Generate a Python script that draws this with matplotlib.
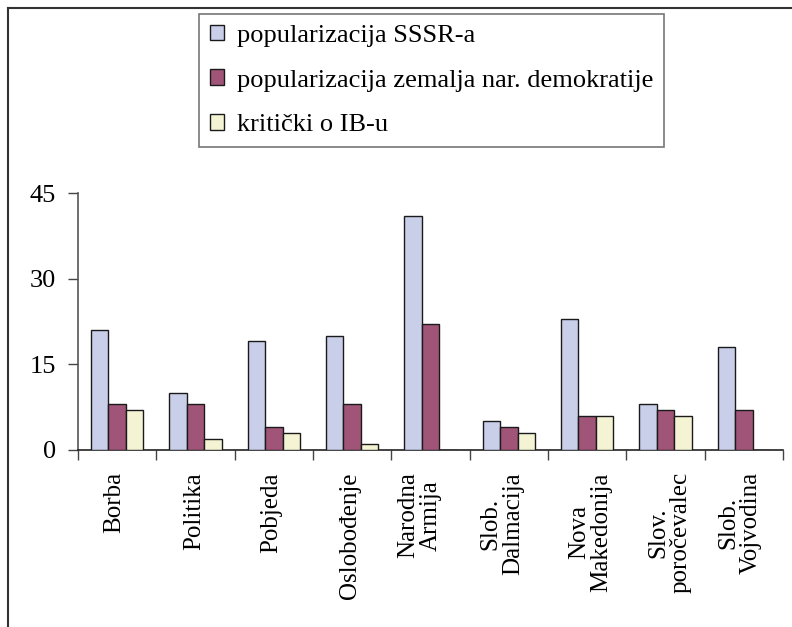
import matplotlib
matplotlib.use("Agg")
import matplotlib.pyplot as plt
import matplotlib.transforms as mtransforms
import numpy as np
from matplotlib.lines import Line2D

plt.rcParams['font.family'] = ['Liberation Serif', 'DejaVu Serif']

categories = ["Borba", "Politika", "Pobjeda", "Oslobođenje", "Narodna\nArmija",
              "Slob.\nDalmacija", "Nova\nMakedonija", "Slov.\nporočevalec", "Slob.\nVojvodina"]
series_names = ["popularizacija SSSR-a", "popularizacija zemalja nar. demokratije", "kritički o IB-u"]
sssr = [21, 10, 19, 20, 41, 5, 23, 8, 18]
nardem = [8, 8, 4, 8, 22, 4, 6, 7, 7]
kriticki = [7, 2, 3, 1, 0, 3, 6, 6, 0]
yticks = [0, 15, 30, 45]

colors = ["#C9CEE9", "#A05478", "#F4F4D4"]
# small horizontal nudges (pixels) of the category labels, as in the reference layout
label_nudge_px = [-3, -1, -3, -2, -11, -7, 3, 4, -4]

W, H = 792, 627
fig = plt.figure(figsize=(W / 100, H / 100), dpi=100)
ax = fig.add_axes([78 / W, 1 - 450 / H, (783 - 78) / W, (450 - 193) / H])

x = np.arange(len(categories))
bw = 0.222
handles = []
for i, (vals, name) in enumerate(zip([sssr, nardem, kriticki], series_names)):
    b = ax.bar(x + (i - 1) * bw, vals, bw, color=colors[i], edgecolor="#1a1a1a",
               linewidth=1.0, label=name, zorder=3)
    handles.append(b)

ax.set_xlim(-0.5, len(categories) - 0.5)
ax.set_ylim(0, 45)
ax.set_yticks(yticks)
ax.set_yticklabels([str(v) for v in yticks], fontsize=19)
ax.tick_params(axis='y', direction='out', length=7, width=1, color="#444444", pad=9)

ax.set_xticks(x)
ax.set_xticklabels(categories, rotation=90, fontsize=18, multialignment='center',
                   linespacing=1.0)
ax.tick_params(axis='x', which='major', length=0, pad=16)
ax.set_xticks(np.arange(-0.5, len(categories), 1.0), minor=True)
ax.tick_params(axis='x', which='minor', direction='out', length=7, width=1, color="#444444")

for lab, dx in zip(ax.get_xticklabels(), label_nudge_px):
    lab.set_transform(lab.get_transform() +
                      mtransforms.ScaledTranslation(dx / 100, 0, fig.dpi_scale_trans))

for s in ['top', 'right']:
    ax.spines[s].set_visible(False)
ax.spines['left'].set_color("#555555")
ax.spines['bottom'].set_color("#222222")
ax.spines['left'].set_linewidth(1.2)
ax.spines['bottom'].set_linewidth(1.2)

leg = fig.legend(handles=handles, labels=series_names, loc='upper left',
                 bbox_to_anchor=(199 / W, 1 - 14 / H), fontsize=19,
                 frameon=True, fancybox=False, edgecolor="#555555",
                 handlelength=0.55, handleheight=0.55, handletextpad=0.5,
                 labelspacing=0.85, borderpad=0.4, borderaxespad=0)
leg.get_frame().set_linewidth(1.2)

# outer frame (top and left edges visible)
fig.add_artist(Line2D([8 / W, 1.0], [1 - 8 / H, 1 - 8 / H], transform=fig.transFigure,
                      color="#333333", linewidth=1.5))
fig.add_artist(Line2D([8 / W, 8 / W], [0.0, 1 - 8 / H], transform=fig.transFigure,
                      color="#333333", linewidth=1.5))

fig.savefig("out.png", dpi=100)
